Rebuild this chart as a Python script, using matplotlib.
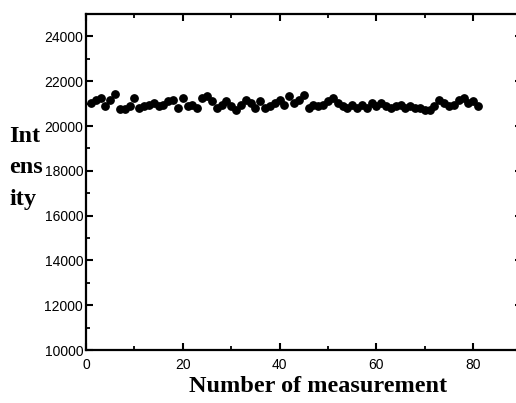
import matplotlib
matplotlib.use("Agg")
import matplotlib.pyplot as plt
from matplotlib.ticker import MultipleLocator

measurement = list(range(1, 82))
intensity = [
    21030, 21180, 21260, 20880, 21180, 21410, 20750, 20780, 20880, 21260,
    20800, 20880, 20950, 21030, 20880, 20950, 21100, 21180, 20800, 21260,
    20880, 20950, 20800, 21260, 21330, 21100, 20800, 20950, 21100, 20880,
    20730, 20950, 21180, 21030, 20800, 21100, 20800, 20880, 21030, 21180,
    20950, 21330, 21030, 21180, 21380, 20800, 20950, 20880, 20950, 21100,
    21260, 21030, 20880, 20800, 20950, 20800, 20950, 20800, 21030, 20880,
    21030, 20880, 20800, 20880, 20950, 20800, 20880, 20800, 20800, 20730,
    20730, 20880, 21180, 21030, 20880, 20950, 21150, 21260, 21030, 21100,
    20880,
]
x_ticks = [0, 20, 40, 60, 80]
y_ticks = [10000, 12000, 14000, 16000, 18000, 20000, 22000, 24000]

W, H = 516, 403
fig = plt.figure(figsize=(W / 100, H / 100), dpi=100)
left, right, top, bottom = 86, 521.6, 14, 350
ax = fig.add_axes([left / W, 1 - bottom / H, (right - left) / W, (bottom - top) / H])

ax.scatter(measurement, intensity, s=28, color="black", zorder=3, clip_on=False)

ax.set_xlim(0, 90)
ax.set_ylim(10000, 25000)
ax.set_xticks(x_ticks)
ax.set_yticks(y_ticks)
ax.xaxis.set_minor_locator(MultipleLocator(10))
ax.yaxis.set_minor_locator(MultipleLocator(1000))

for s in ax.spines.values():
    s.set_linewidth(1.6)

ax.tick_params(axis="both", which="major", direction="in", length=5, width=1.5,
               labelsize=10)
ax.tick_params(axis="y", which="major", pad=2)
ax.tick_params(axis="x", which="major", pad=6)
ax.tick_params(axis="both", which="minor", direction="in", length=3, width=1.3)
ax.tick_params(axis="x", which="both", top=True, bottom=True)
ax.tick_params(axis="y", which="major", left=True, right=True)
ax.tick_params(axis="y", which="minor", left=True, right=False)
for lab in ax.get_xticklabels() + ax.get_yticklabels():
    lab.set_fontfamily("Liberation Sans")

serif = dict(family="Liberation Serif", fontweight="bold", fontsize=17.5)
fig.text(318 / W, 1 - 387 / H, "Number of measurement", ha="center", va="center", **serif)
fig.text(9 / W, 1 - 137 / H, "Int", ha="left", va="center", **serif)
fig.text(9 / W, 1 - 168 / H, "ens", ha="left", va="center", **serif)
fig.text(9 / W, 1 - 199 / H, "ity", ha="left", va="center", **serif)

fig.savefig("out.png", dpi=100)
